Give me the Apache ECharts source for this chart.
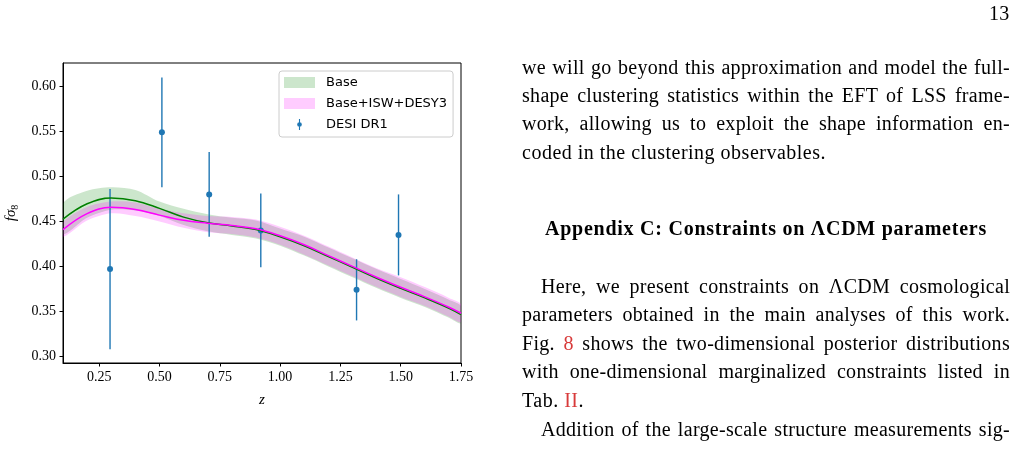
<!DOCTYPE html>
<html>
<head>
<meta charset="utf-8">
<script src="https://cdn.jsdelivr.net/npm/echarts@6/dist/echarts.min.js"></script>
<style>
  html, body { margin: 0; padding: 0; background: #fff; }
  #page { position: relative; width: 1017px; height: 453px; overflow: hidden; }
  #chart { position: absolute; left: 0; top: 0; width: 1017px; height: 453px; }
  .txt { position: absolute; font-family: 'Liberation Serif', serif; font-size: 20px; line-height: 20px; color: #000; white-space: nowrap; letter-spacing: 0.3px; }
  .just { text-align: justify; text-align-last: justify; }
  .red { color: #d83a3a; }
  .head { font-weight: bold; letter-spacing: 0.75px; }
</style>
</head>
<body>
<div id="page">
  <div id="chart"></div>

  <div class="txt" style="left:989px;top:3px;">13</div>

  <div class="txt just" style="left:522px;top:57px;width:488px;">we will go beyond this approximation and model the full-</div>
  <div class="txt just" style="left:522px;top:85px;width:488px;">shape clustering statistics within the EFT of LSS frame-</div>
  <div class="txt just" style="left:522px;top:113px;width:488px;">work, allowing us to exploit the shape information en-</div>
  <div class="txt" style="left:522px;top:142px;letter-spacing:0.5px;">coded in the clustering observables.</div>

  <div class="txt head" style="left:545px;top:218px;">Appendix C: Constraints on ΛCDM parameters</div>

  <div class="txt just" style="left:541px;top:276px;width:469px;">Here, we present constraints on ΛCDM cosmological</div>
  <div class="txt just" style="left:522px;top:304px;width:488px;">parameters obtained in the main analyses of this work.</div>
  <div class="txt just" style="left:522px;top:333px;width:488px;">Fig. <span class="red">8</span> shows the two-dimensional posterior distributions</div>
  <div class="txt just" style="left:522px;top:361px;width:488px;">with one-dimensional marginalized constraints listed in</div>
  <div class="txt" style="left:522px;top:390px;letter-spacing:0.5px;">Tab. <span class="red">II</span>.</div>
  <div class="txt just" style="left:541px;top:419px;width:469px;">Addition of the large-scale structure measurements sig-</div>
</div>

<script>
// redshift grid where the model curves were read
const zGrid = [0.10, 0.20, 0.30, 0.40, 0.50, 0.60, 0.70, 0.80, 0.90, 1.00, 1.10, 1.20, 1.30, 1.40, 1.50, 1.60, 1.70, 1.75]

// Base
const baseMean = [0.4526, 0.4696, 0.4760, 0.4730, 0.4645, 0.4548, 0.4485, 0.4450, 0.4410, 0.4330, 0.4230, 0.4110, 0.3990, 0.3868, 0.3756, 0.3650, 0.3535, 0.3465]
const baseLo = [0.436, 0.454, 0.463, 0.462, 0.456, 0.446, 0.439, 0.435, 0.431, 0.423, 0.412, 0.400, 0.388, 0.376, 0.365, 0.355, 0.343, 0.337]
const baseHi = [0.470, 0.484, 0.488, 0.485, 0.472, 0.464, 0.458, 0.454, 0.451, 0.442, 0.433, 0.421, 0.409, 0.397, 0.386, 0.375, 0.363, 0.356]

// Base+ISW+DESY3
const iswMean = [0.4408, 0.4586, 0.4656, 0.4632, 0.4570, 0.4512, 0.4480, 0.4455, 0.4418, 0.4340, 0.4240, 0.4120, 0.4000, 0.3880, 0.3768, 0.3662, 0.3547, 0.3480]
const iswLo = [0.433, 0.451, 0.459, 0.456, 0.450, 0.443, 0.438, 0.436, 0.432, 0.424, 0.413, 0.401, 0.389, 0.377, 0.366, 0.356, 0.344, 0.338]
const iswHi = [0.449, 0.466, 0.472, 0.471, 0.464, 0.459, 0.456, 0.455, 0.452, 0.444, 0.434, 0.422, 0.410, 0.398, 0.388, 0.377, 0.365, 0.358]

// DESI DR1 fsigma8
const desiZ = [0.295, 0.510, 0.706, 0.920, 1.317, 1.491]
const desiVal = [0.397, 0.549, 0.480, 0.440, 0.374, 0.435]
const desiErr = [0.089, 0.061, 0.047, 0.041, 0.034, 0.045]

const xTicks = [0.25, 0.50, 0.75, 1.00, 1.25, 1.50, 1.75]
const yTicks = [0.30, 0.35, 0.40, 0.45, 0.50, 0.55, 0.60]

const serif = "'Liberation Serif', serif"

const bandSeries = (name, lo, hi, color) => {
  return {
    name: name,
    type: 'custom',
    clip: true,
    itemStyle: {color: color},
    data: zGrid.map((z, i) => [z, lo[i], hi[i]]),
    renderItem: (params, api) => {
      if (params.dataIndex !== 0) return
      const pts = []
      for (let i = 0; i < zGrid.length; i++) pts.push(api.coord([zGrid[i], hi[i]]))
      for (let i = zGrid.length - 1; i >= 0; i--) pts.push(api.coord([zGrid[i], lo[i]]))
      return {
        type: 'polygon',
        shape: {points: pts, smooth: 0.3},
        style: {fill: color}
      }
    }
  }
}

const lineSeries = (name, vals, color) => {
  return {
    name: name,
    type: 'line',
    data: zGrid.map((z, i) => [z, vals[i]]),
    smooth: 0.4,
    showSymbol: false,
    lineStyle: {color: color, width: 1.5},
    itemStyle: {color: color}
  }
}

const myChart = echarts.init(document.getElementById('chart'))

const option = {
  animation: false,
  grid: {left: 63, right: 556, top: 63, bottom: 90, show: true, borderColor: '#000', borderWidth: 1},
  legend: {
    orient: 'vertical',
    left: 279,
    top: 71,
    padding: [4, 6, 5, 5],
    itemWidth: 31,
    itemHeight: 11,
    itemGap: 6,
    symbolKeepAspect: true,
    backgroundColor: 'rgba(255,255,255,0.8)',
    borderColor: '#cccccc',
    borderWidth: 1,
    borderRadius: 3,
    selectedMode: false,
    textStyle: {fontFamily: "'DejaVu Sans', sans-serif", fontSize: 13, lineHeight: 15, color: '#000', padding: [0, 0, 0, 6]},
    data: [
      {name: 'Base', icon: 'rect'},
      {name: 'Base+ISW+DESY3', icon: 'rect'},
      {name: 'DESI DR1', icon: 'path://M-0.7,-7L0.7,-7L0.7,7L-0.7,7Z M3,0A3,3 0 1 1 -3,0A3,3 0 1 1 3,0Z'}
    ]
  },
  xAxis: {
    type: 'value',
    min: 0.1,
    max: 1.75,
    name: 'z',
    nameLocation: 'middle',
    nameGap: 30,
    nameTextStyle: {fontFamily: serif, fontStyle: 'italic', fontSize: 15, color: '#000'},
    axisLine: {onZero: false, lineStyle: {color: '#000', width: 1}},
    axisTick: {customValues: xTicks, length: 3.5, lineStyle: {color: '#000'}},
    axisLabel: {customValues: xTicks, margin: 7, fontFamily: serif, fontSize: 14, color: '#000', formatter: v => v.toFixed(2)},
    splitLine: {show: false}
  },
  yAxis: {
    type: 'value',
    min: 0.2927,
    max: 0.626,
    name: '{f|fσ}{s|8}',
    nameLocation: 'middle',
    nameGap: 43,
    nameRotate: 90,
    nameTextStyle: {
      color: '#000',
      rich: {
        f: {fontFamily: serif, fontStyle: 'italic', fontSize: 15, color: '#000'},
        s: {fontFamily: serif, fontSize: 10, color: '#000', padding: [7, 0, 0, 0]}
      }
    },
    axisLine: {show: true, onZero: false, lineStyle: {color: '#000', width: 1}},
    axisTick: {show: true, customValues: yTicks, length: 3.5, lineStyle: {color: '#000'}},
    axisLabel: {customValues: yTicks, margin: 7, fontFamily: serif, fontSize: 14, color: '#000', formatter: v => v.toFixed(2)},
    splitLine: {show: false}
  },
  series: [
    bandSeries('Base', baseLo, baseHi, 'rgba(0,128,0,0.2)'),
    bandSeries('Base+ISW+DESY3', iswLo, iswHi, 'rgba(255,0,255,0.2)'),
    lineSeries('Base mean', baseMean, '#008000'),
    lineSeries('Base+ISW+DESY3 mean', iswMean, '#ff00ff'),
    {
      name: 'DESI DR1',
      type: 'custom',
      itemStyle: {color: '#1f77b4'},
      data: desiZ.map((z, i) => [z, desiVal[i], desiErr[i]]),
      renderItem: (params, api) => {
        const z = api.value(0)
        const v = api.value(1)
        const e = api.value(2)
        const top = api.coord([z, v + e])
        const bot = api.coord([z, v - e])
        const mid = api.coord([z, v])
        return {
          type: 'group',
          children: [
            {type: 'line', shape: {x1: top[0], y1: top[1], x2: bot[0], y2: bot[1]}, style: {stroke: '#1f77b4', lineWidth: 1.4}},
            {type: 'circle', shape: {cx: mid[0], cy: mid[1], r: 3}, style: {fill: '#1f77b4'}}
          ]
        }
      }
    }
  ]
}

myChart.setOption(option)
</script>
</body>
</html>
